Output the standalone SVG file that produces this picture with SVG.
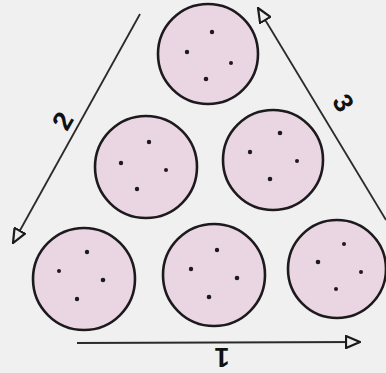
<svg xmlns="http://www.w3.org/2000/svg" width="386" height="373" viewBox="0 0 386 373">
<style>
.cell{fill:#ead5e2;stroke:#1c1a1c;stroke-width:2.6}
.dot{fill:#1c1a1c}
.conn{fill:none;stroke:#2a2a2a;stroke-width:1.8}
.lbl{font-family:"Liberation Sans",Arial,sans-serif;font-size:27px;font-weight:bold;fill:#111;text-anchor:middle;dominant-baseline:central}
</style>
<defs>
<marker id="open" viewBox="0 0 16 14" refX="15" refY="7" markerWidth="16" markerHeight="14" markerUnits="userSpaceOnUse" orient="auto">
<path d="M1,1 L15,7 L1,13 Z" fill="#eef0ee" stroke="#1c1a1c" stroke-width="2.2" stroke-linejoin="miter"/>
</marker>
</defs>
<rect width="386" height="373" fill="#eff0ef"/>
<g id="cell-top">
<circle class="cell" cx="208" cy="54" r="50"/>
<circle class="dot" cx="212" cy="32" r="2.2"/><circle class="dot" cx="187" cy="52" r="2.2"/><circle class="dot" cx="231" cy="63" r="2"/><circle class="dot" cx="206" cy="79" r="2.3"/>
</g>
<g id="cell-mid-left">
<circle class="cell" cx="146" cy="167" r="51"/>
<circle class="dot" cx="149" cy="142" r="2.2"/><circle class="dot" cx="121" cy="163" r="2.2"/><circle class="dot" cx="166" cy="170" r="2"/><circle class="dot" cx="137" cy="189" r="2.2"/>
</g>
<g id="cell-mid-right">
<circle class="cell" cx="273" cy="160" r="50"/>
<circle class="dot" cx="280" cy="133" r="2.3"/><circle class="dot" cx="250" cy="152" r="2.2"/><circle class="dot" cx="297" cy="161" r="2"/><circle class="dot" cx="270" cy="179" r="2.3"/>
</g>
<g id="cell-bot-left">
<circle class="cell" cx="84" cy="279" r="51"/>
<circle class="dot" cx="87" cy="252" r="2.2"/><circle class="dot" cx="59" cy="271" r="2"/><circle class="dot" cx="103" cy="280" r="2.3"/><circle class="dot" cx="77" cy="299" r="2.2"/>
</g>
<g id="cell-bot-mid">
<circle class="cell" cx="214" cy="275" r="51"/>
<circle class="dot" cx="217" cy="250" r="2.2"/><circle class="dot" cx="191" cy="269" r="2.2"/><circle class="dot" cx="237" cy="278" r="2.3"/><circle class="dot" cx="209" cy="297" r="2.3"/>
</g>
<g id="cell-bot-right">
<circle class="cell" cx="337" cy="269" r="49"/>
<circle class="dot" cx="344" cy="244" r="2"/><circle class="dot" cx="318" cy="262" r="2.3"/><circle class="dot" cx="361" cy="272" r="2"/><circle class="dot" cx="336" cy="289" r="2"/>
</g>
<g id="connectors">
<line class="conn" x1="77" y1="343" x2="360" y2="342" marker-end="url(#open)"/>
<line class="conn" x1="140" y1="14" x2="13" y2="243" marker-end="url(#open)"/>
<line class="conn" x1="386" y1="220" x2="258" y2="8" marker-end="url(#open)"/>
</g>
<g id="labels">
<text class="lbl" transform="translate(222,357) rotate(180)">1</text>
<text class="lbl" transform="translate(63,121) rotate(-60)">2</text>
<text class="lbl" transform="translate(343,103) rotate(60)">3</text>
</g>
</svg>
